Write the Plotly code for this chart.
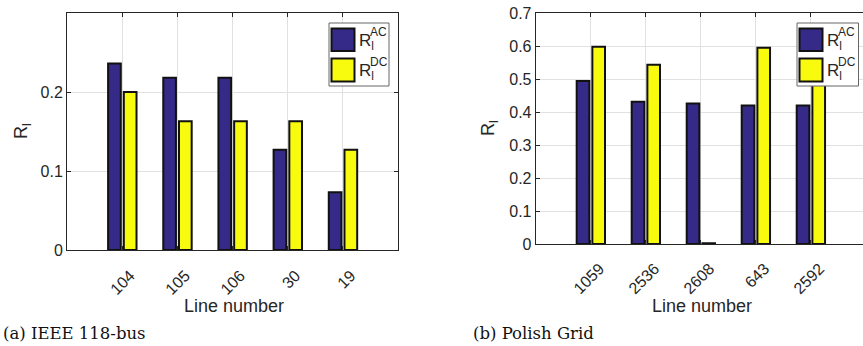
import plotly.graph_objects as go

W, H = 863, 346

# ---- data ----
lines_a = ["104", "105", "106", "30", "19"]
ac_a = [0.236, 0.218, 0.218, 0.127, 0.073]
dc_a = [0.200, 0.163, 0.163, 0.163, 0.127]

lines_b = ["1059", "2536", "2608", "643", "2592"]
ac_b = [0.494, 0.431, 0.426, 0.420, 0.420]
dc_b = [0.598, 0.543, 0.002, 0.595, 0.550]

yticks_a = [0, 0.1, 0.2]
yticks_b = [0, 0.1, 0.2, 0.3, 0.4, 0.5, 0.6, 0.7]

NAVY = "#352A87"
YEL = "#F9FB0E"
AXC = "#262626"
GRID = "#E1E1E1"
FONT = "Liberation Sans, Arial, sans-serif"


def px(x):
    return x / W


def py(y):
    return 1 - y / H


fig = go.Figure()

bw = 0.23
for xs, ac, dc, xa, ya in [(lines_a, ac_a, dc_a, "x", "y"), (lines_b, ac_b, dc_b, "x2", "y2")]:
    fig.add_trace(go.Bar(x=xs, y=ac, width=bw, offset=-0.255, marker=dict(color=NAVY, line=dict(color="#111", width=2)),
                         xaxis=xa, yaxis=ya, showlegend=False))
    fig.add_trace(go.Bar(x=xs, y=dc, width=bw, offset=0.03, marker=dict(color=YEL, line=dict(color="#111", width=2)),
                         xaxis=xa, yaxis=ya, showlegend=False))

common_x = dict(type="category", showline=True, linecolor=AXC, linewidth=1, mirror="ticks",
                ticks="inside", ticklen=4, tickcolor=AXC, tickangle=-45, showgrid=True, gridcolor=GRID,
                tickfont=dict(family=FONT, size=16, color=AXC), zeroline=False, automargin=False)
common_y = dict(showline=True, linecolor=AXC, linewidth=1, ticks="inside", ticklen=4, tickcolor=AXC,
                showgrid=True, gridcolor=GRID, zeroline=False, automargin=False,
                tickfont=dict(family=FONT, size=16, color=AXC))

fig.update_layout(
    width=W, height=H, margin=dict(l=0, r=0, t=0, b=0, autoexpand=False),
    plot_bgcolor="white", paper_bgcolor="white", barmode="overlay", showlegend=False,
    xaxis=dict(common_x, domain=[px(67), px(398)], range=[-1, 5], anchor="y",
               categoryorder="array", categoryarray=lines_a, ticklabelstandoff=9, ticklabelshift=8),
    yaxis=dict(common_y, domain=[py(250), py(13)], range=[0, 0.3], tickvals=yticks_a,
               ticktext=["0", "0.1", "0.2"], mirror="ticks", anchor="x"),
    xaxis2=dict(common_x, domain=[px(535.7), 1.0], range=[-1, 4.95], anchor="y2",
                categoryorder="array", categoryarray=lines_b, ticklabelstandoff=8, ticklabelshift=9),
    yaxis2=dict(common_y, domain=[py(244), py(13)], range=[0, 0.7], tickvals=yticks_b,
                ticktext=[("%g" % v) for v in yticks_b], mirror=False, anchor="x2"),
)

ann = []
shapes = []


def A(text, x, y, size, family=FONT, xanchor="center", angle=0, color=AXC):
    ann.append(dict(text=text, x=px(x), y=py(y), xref="paper", yref="paper", showarrow=False,
                    xanchor=xanchor, yanchor="middle", textangle=angle,
                    font=dict(family=family, size=size, color=color)))


# axis titles
A("Line number", 234, 306, 18)
A("Line number", 702, 306, 18)
A("R<sub>l</sub>", 22, 131, 18, angle=-90)
A("R<sub>l</sub>", 489, 128, 18, angle=-90)

# captions
A("(a) IEEE 118-bus", 1, 333, 16.5, family="DejaVu Serif, serif", xanchor="left", color="#111")
A("(b) Polish Grid", 471, 333, 16.5, family="DejaVu Serif, serif", xanchor="left", color="#111")


# legends
def legend(x0, x1, sx0):
    shapes.append(dict(type="rect", xref="paper", yref="paper", x0=px(x0), x1=px(x1), y0=py(86), y1=py(23),
                       line=dict(color="#666", width=1), fillcolor="white", layer="above"))
    for (y0, y1, col, sup) in [(28.5, 51, NAVY, "AC"), (58.5, 81.5, YEL, "DC")]:
        shapes.append(dict(type="rect", xref="paper", yref="paper", x0=px(sx0), x1=px(sx0 + 23), y0=py(y1), y1=py(y0),
                           line=dict(color="#111", width=2), fillcolor=col, layer="above"))
        cy = (y0 + y1) / 2
        A("R<sub>l</sub>", sx0 + 25.5, cy + 2, 17, xanchor="left")
        A(sup, sx0 + 36, cy - 8, 12, xanchor="left")


legend(329, 389, 331.5)
legend(797, 858.5, 799.5)

fig.update_layout(annotations=ann, shapes=shapes)
fig.write_html(
    "out.html",
    config={"displayModeBar": False},
    post_script=(
        "document.documentElement.style.margin='0';document.documentElement.style.padding='0';"
        "document.documentElement.style.overflow='hidden';"
        "document.body.style.margin='0';document.body.style.padding='0';document.body.style.overflow='hidden';"
    ),
)
